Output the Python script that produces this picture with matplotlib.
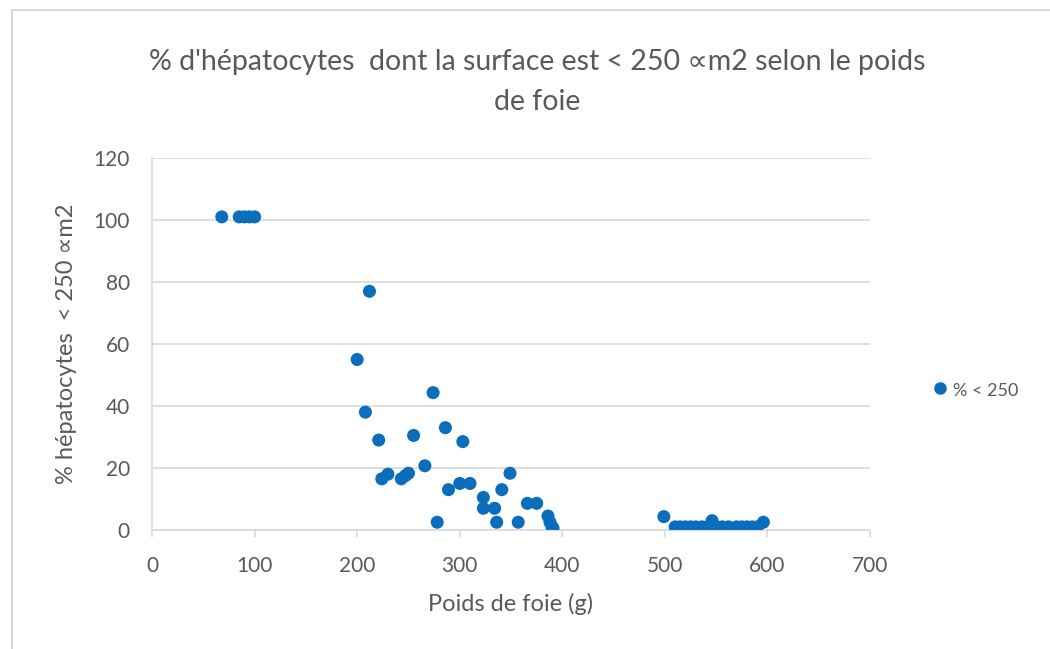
import matplotlib.pyplot as plt
from matplotlib.patches import Rectangle
from matplotlib.lines import Line2D

plt.rcParams['font.family'] = ['Lato', 'DejaVu Sans']

# Liver weight (g) and % of hepatocytes < 250
poids = [68, 85, 90, 95, 100,
         212, 200, 208, 221, 224, 230, 243, 247, 250, 255, 266, 274, 278,
         286, 289, 300, 303, 310, 323, 323, 334, 336, 341, 349, 357, 366,
         375, 386, 388, 390, 391,
         499, 510, 515, 520, 525, 530, 536, 541, 546, 551, 556, 562, 570,
         575, 580, 585, 590, 596]
pct = [101, 101, 101, 101, 101,
       77, 55, 38, 29, 16.5, 18, 16.5, 17.5, 18.3, 30.5, 20.7, 44.3, 2.5,
       33, 13, 15, 28.5, 15, 10.5, 7, 7, 2.5, 13, 18.3, 2.5, 8.6,
       8.6, 4.5, 2.5, 1, 0.5,
       4.3, 1, 1, 1, 1, 1, 1, 1, 3, 1, 1, 1, 1,
       1, 1, 1, 1, 2.5]

x_ticks = [0, 100, 200, 300, 400, 500, 600, 700]
y_ticks = [0, 20, 40, 60, 80, 100, 120]

blue = '#0a6ebd'
grey_text = '#595959'
grid_col = '#d9d9d9'

fig = plt.figure(figsize=(10.5, 6.49), dpi=100)
ax = fig.add_axes([0.1448, 0.1834, 0.6838, 0.5732])

# outer chart frame
fig.patches.append(Rectangle((12 / 1050, -0.1), 1.2, (649 - 10) / 649 + 0.1,
                             transform=fig.transFigure, fill=False,
                             edgecolor='#d0d0d0', linewidth=1.2))

ax.scatter(poids, pct, s=88, color=blue, edgecolors='none', zorder=3)

ax.set_xlim(0, 700)
ax.set_ylim(0, 120)
ax.set_xticks(x_ticks)
ax.set_yticks(y_ticks)
ax.yaxis.grid(True, color=grid_col, linewidth=1.2)
ax.set_axisbelow(True)

for side in ['top', 'right']:
    ax.spines[side].set_visible(False)
ax.spines['left'].set_color(grid_col)
ax.spines['bottom'].set_color(grid_col)
ax.spines['left'].set_linewidth(1.2)
ax.spines['bottom'].set_linewidth(1.2)
ax.tick_params(axis='x', colors=grid_col, length=5, width=1.2, labelcolor=grey_text,
               labelsize=15, pad=14)
ax.tick_params(axis='y', length=0, labelcolor=grey_text, labelsize=15, pad=16)

ax.set_xlabel('Poids de foie (g)', fontsize=17, color=grey_text, labelpad=12)
ax.set_ylabel('% hépatocytes  < 250 ∝m2', fontsize=17, color=grey_text, labelpad=12)

fig.text(0.512, 0.905, "% d'hépatocytes  dont la surface est < 250 ∝m2 selon le poids",
         ha='center', va='center', fontsize=20.5, color=grey_text)
fig.text(0.512, 0.843, 'de foie', ha='center', va='center', fontsize=20.5, color=grey_text)

# legend
fig.lines.append(Line2D([940 / 1050], [1 - 388 / 649], transform=fig.transFigure,
                        marker='o', markersize=8, color=blue, linestyle='none'))
fig.text(953 / 1050, 1 - 391 / 649, '% < 250', ha='left', va='center',
         fontsize=13, color=grey_text)

plt.savefig('out.png', dpi=100)
